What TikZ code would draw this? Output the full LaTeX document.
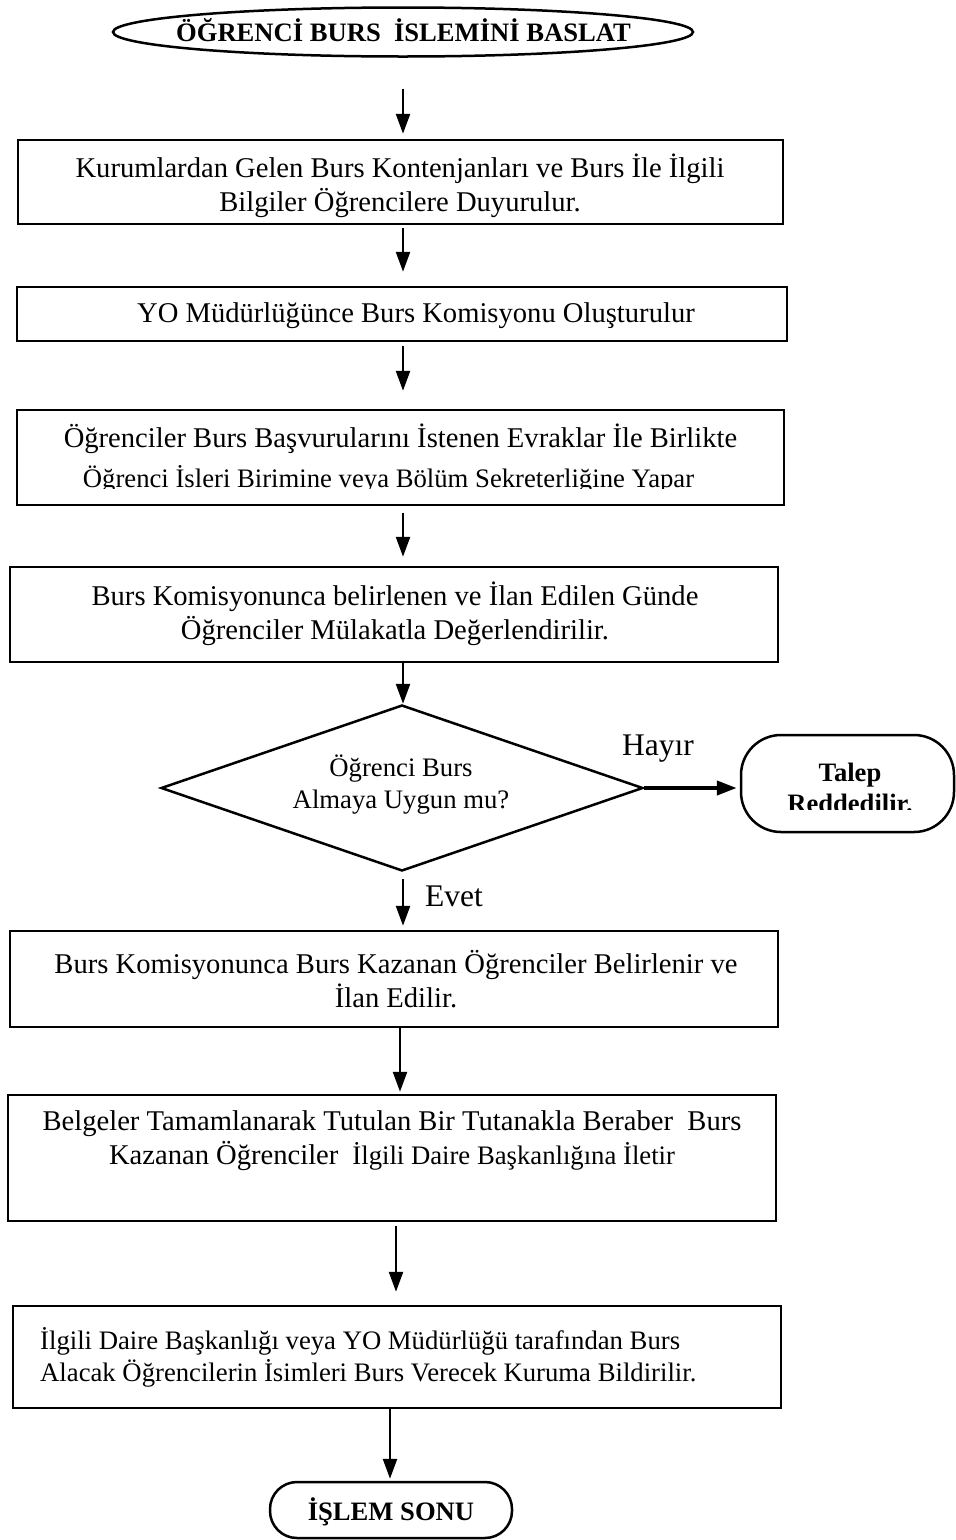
\documentclass[tikz,border=0pt]{standalone}
\usepackage{fontspec}
\setmainfont{Liberation Serif}
\usetikzlibrary{shapes.geometric,arrows.meta}
\begin{document}
\begin{tikzpicture}[x=1pt,y=-1pt,
  frame/.style={draw, line width=2.5pt, rectangle, inner sep=0pt},
  txt/.style={inner sep=0pt, align=center},
  big/.style={font=\fontsize{28.6}{34}\selectfont},
  mid/.style={font=\fontsize{26.7}{32}\selectfont},
  tag/.style={font=\fontsize{31.5}{36}\selectfont, inner sep=0pt},
  heavy/.style={font=\fontsize{26.6}{30}\selectfont\bfseries, inner sep=0pt, align=center},
  flow/.style={line width=2.5pt, -{Triangle[length=20pt,width=14pt]}},
]
\useasboundingbox (0,0) rectangle (956,1540);

% column positions of the vertical connectors
\coordinate (x403) at (403,0);
\coordinate (x400) at (400,0);
\coordinate (x396) at (396,0);
\coordinate (x390) at (390,0);

% start terminal
\node[draw, ellipse, line width=2.5pt, minimum width=580pt, minimum height=49pt, inner sep=0pt] (start) at (403,32) {};
\node[heavy] (tstart) at (403.5,30.5) {ÖĞRENCİ BURS\ \ İSLEMİNİ BASLAT};

% process boxes
\node[frame, minimum width=765pt, minimum height=84pt] (b1) at (400.5,182) {};
\node[txt, big] (t1) at (400,186) {Kurumlardan Gelen Burs Kontenjanları ve Burs İle İlgili\\Bilgiler Öğrencilere Duyurulur.};

\node[frame, minimum width=770pt, minimum height=54pt] (b2) at (402,314) {};
\node[txt, big] (t2) at (416,316) {YO Müdürlüğünce Burs Komisyonu Oluşturulur};

\node[frame, minimum width=767pt, minimum height=95pt] (b3) at (400.5,457.5) {};
\node[txt, big] (t3a) at (400.5,439) {Öğrenciler Burs Başvurularını İstenen Evraklar İle Birlikte};
\begin{scope}
  \clip (0,400) rectangle (956,488);
  \node[txt, mid, anchor=base] (t3b) at (388.5,487) {Öğrenci İsleri Birimine veya Bölüm Sekreterliğine Yapar};
\end{scope}

\node[frame, minimum width=768pt, minimum height=95pt] (b4) at (394,614.5) {};
\node[txt, big] (t4) at (395,614) {Burs Komisyonunca belirlenen ve İlan Edilen Günde\\Öğrenciler Mülakatla Değerlendirilir.};

% decision
\node[draw, diamond, aspect=2.9, line width=2.5pt, minimum width=482pt, minimum height=166pt, inner sep=0pt] (dec) at (402,788) {};
\node[txt, mid] (tdec) at (401,785) {Öğrenci Burs\\Almaya Uygun mu?};

% rejection terminal
\node[draw, line width=2.5pt, rounded corners=40pt, minimum width=213pt, minimum height=97pt, inner sep=0pt] (no) at (847.5,783.5) {};
\node[heavy] (tno1) at (850,775) {Talep};
\begin{scope}
  \clip (740,740) rectangle (956,809);
  \node[heavy, anchor=base] (tno2) at (850,812) {Reddedilir.};
\end{scope}

\node[frame, minimum width=768pt, minimum height=96pt] (b5) at (394,979) {};
\node[txt, big] (t5) at (396,979) {Burs Komisyonunca Burs Kazanan Öğrenciler Belirlenir ve\\İlan Edilir.};

\node[frame, minimum width=768pt, minimum height=126pt] (b6) at (392,1158) {};
\node[txt, big] (t6) at (392,1141) {Belgeler Tamamlanarak Tutulan Bir Tutanakla Beraber\ \ Burs\\Kazanan Öğrenciler\hspace{14pt}{\fontsize{26.7}{32}\selectfont İlgili Daire Başkanlığına İletir}};

\node[frame, minimum width=768pt, minimum height=102pt] (b7) at (397,1357) {};
\node[txt, mid, align=left, anchor=west] (t7) at (40,1357) {İlgili Daire Başkanlığı veya YO Müdürlüğü tarafından Burs\\Alacak Öğrencilerin İsimleri Burs Verecek Kuruma Bildirilir.};

% end terminal
\node[draw, line width=2.5pt, rounded corners=27pt, minimum width=242pt, minimum height=56pt, inner sep=0pt] (end) at (391,1510) {};
\node[heavy] (tend) at (391,1512) {İŞLEM SONU};

% connectors
\draw[flow, shorten <=31pt, shorten >=5pt] (x403 |- start.south) -- (x403 |- b1.north);
\draw[flow, shorten <=3pt, shorten >=14pt] (x403 |- b1.south) -- (x403 |- b2.north);
\draw[flow, shorten <=4pt, shorten >=18pt] (x403 |- b2.south) -- (x403 |- b3.north);
\draw[flow, shorten <=7pt, shorten >=9pt] (x403 |- b3.south) -- (x403 |- b4.north);
\draw[flow] (x403 |- b4.south) -- (x403 |- dec.north);
\draw[flow, shorten <=7pt, shorten >=4pt] (x403 |- dec.south) -- (x403 |- b5.north);
\draw[flow, shorten >=2pt] (x400 |- b5.south) -- (x400 |- b6.north);
\draw[flow, shorten <=4pt, shorten >=13pt] (x396 |- b6.south) -- (x396 |- b7.north);
\draw[flow, shorten >=2pt] (x390 |- b7.south) -- (x390 |- end.north);
\draw[flow, line width=4pt, shorten >=3pt] (dec.east) -- (dec.east -| no.west);

% branch labels
\node[tag] (hayir) at (658,749) {Hayır};
\node[tag] (evet) at (454,896) {Evet};
\end{tikzpicture}
\end{document}
